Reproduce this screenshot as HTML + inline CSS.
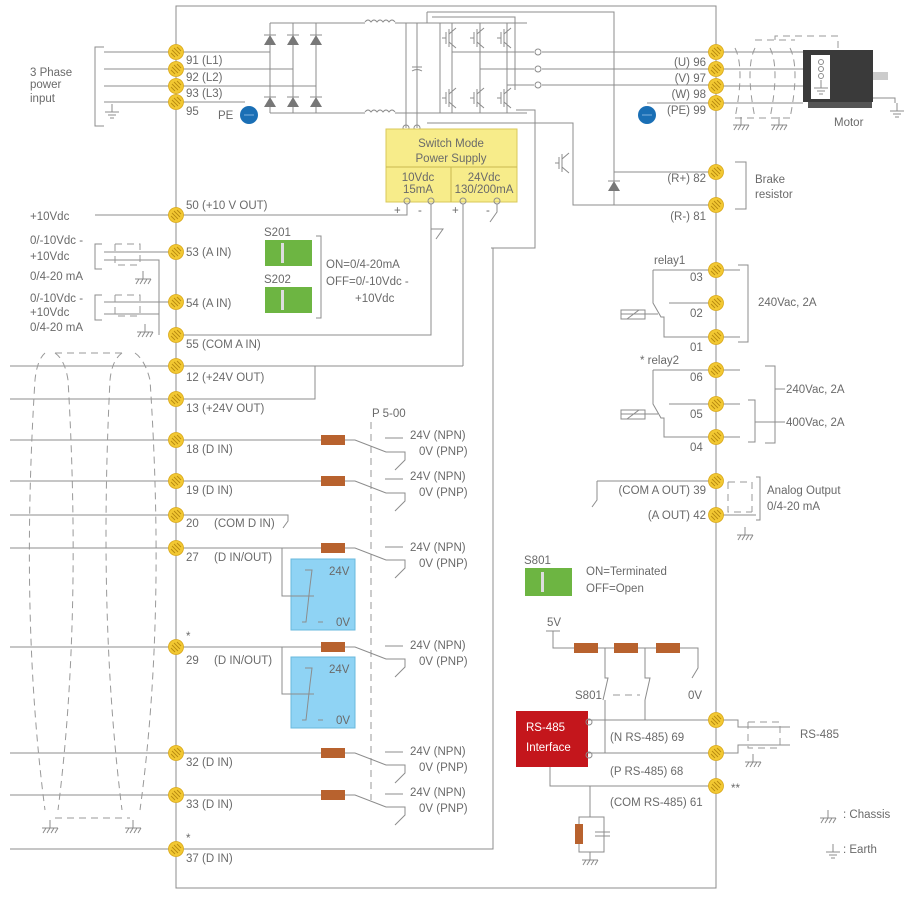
<!DOCTYPE html>
<html><head><meta charset="utf-8"><style>
html,body{margin:0;padding:0;background:#fff}
svg{display:block;font-family:"Liberation Sans",sans-serif;font-size:11.5px;fill:#6a6a6a}
.l{stroke:#8c8c8c;stroke-width:1;fill:none}
.d{stroke:#999;stroke-width:1;fill:none;stroke-dasharray:7 5}
.r{fill:#b8622e}
</style></head><body>
<svg width="918" height="902" viewBox="0 0 918 902">
<defs>
<g id="t"><circle r="7.5" fill="#f2c832" stroke="#d9a81a" stroke-width="0.8"/><path d="M-4 -2 L2 4 M-2 -4 L4 2 M-5 1 L-1 5 M1 -5 L5 -1" stroke="#b98b10" stroke-width="0.9"/></g>
<g id="res"><rect x="0" y="-5" width="24" height="10" class="r"/></g>
<g id="sw"><path class="l" d="M0 0 H10 L41 12 H60 V20 L50 30"/></g>
<g id="ch"><path class="l" d="M0 0 V-8 M-8 0 H8 M-7 5 L-4 0 M-3 5 L0 0 M1 5 L4 0 M5 5 L8 0"/></g>
<g id="gnd"><path class="l" d="M0 -8 V0 M-7 0 H7 M-4 3 H4 M-2 6 H2"/></g>
<g id="dio"><path d="M-6 5 L6 5 L0 -5 Z" fill="#777"/><path class="l" d="M-6 -5 H6"/></g>
<g id="igbt"><path class="l" d="M-10 0 H-6 M-6 -6 V6 M-3 -9 V9 M-3 -4 L4 -10 M-3 4 L4 10"/></g>
</defs>

<path class="l" d="M176 6 H716 V888 H176 Z"/>

<text x="30" y="76">3 Phase</text><text x="30" y="88">power</text><text x="30" y="102">input</text>
<path class="l" d="M104 47 H95 V126 H104"/>
<path class="l" d="M104 52 H270 M104 69 H293 M104 86 H316 M104 102 H245"/>
<use href="#gnd" x="112" y="112"/>
<path class="l" d="M270 23 V113 M293 23 V113 M316 23 V113 M270 23 H365 M270 113 H365"/>
<use href="#dio" x="270" y="40"/><use href="#dio" x="293" y="40"/><use href="#dio" x="316" y="40"/>
<use href="#dio" x="270" y="102"/><use href="#dio" x="293" y="102"/><use href="#dio" x="316" y="102"/>
<path class="l" d="M365 22 q3 -4 6 0 q3 -4 6 0 q3 -4 6 0 q3 -4 6 0 q3 -4 6 0 M365 112 q3 -4 6 0 q3 -4 6 0 q3 -4 6 0 q3 -4 6 0 q3 -4 6 0"/>
<path class="l" d="M395 23 H527 M395 113 H527 M406 23 V128 M417 23 V128 M427 12 V23 M427 12 H614 V205 M412 67 H422 M412 71 q5 -3 10 0 M417 23 V67 M417 71 V113"/>
<path class="l" d="M432 17 H515 V90 M440 23 V113 M452 23 V113 M480 23 V113 M507 23 V113"/>
<use href="#igbt" x="452" y="38"/><use href="#igbt" x="480" y="38"/><use href="#igbt" x="507" y="38"/>
<use href="#igbt" x="452" y="98"/><use href="#igbt" x="480" y="98"/><use href="#igbt" x="507" y="98"/>
<path class="l" d="M452 52 H534 M480 69 H534 M507 85 H534 M542 52 H716 M542 69 H716 M542 85 H716"/>
<circle cx="538" cy="52" r="3" class="l"/><circle cx="538" cy="69" r="3" class="l"/><circle cx="538" cy="85" r="3" class="l"/>
<path class="l" d="M516 110 H535 V248 H491 M427 123 H573 V205 H716 M614 172 H716"/>
<use href="#igbt" x="565" y="163"/>
<use href="#dio" x="614" y="186"/>
<circle cx="406" cy="128" r="3" fill="#fff" class="l"/><circle cx="417" cy="128" r="3" fill="#fff" class="l"/>
<circle cx="249" cy="115" r="9" fill="#1a6fb5"/><path d="M244 115 H254" stroke="#7fb0de"/>
<text x="218" y="119">PE</text>
<circle cx="647" cy="115" r="9" fill="#1a6fb5"/><path d="M642 115 H652" stroke="#7fb0de"/>
<path class="l" d="M647 103 H716"/>

<rect x="386" y="129" width="131" height="73" fill="#f7ec8a" stroke="#d9c85a"/>
<path d="M386 167 H517 M451 167 V202" stroke="#c8b850"/>
<text x="451" y="147" text-anchor="middle">Switch Mode</text><text x="451" y="162" text-anchor="middle">Power Supply</text>
<text x="418" y="181" text-anchor="middle">10Vdc</text><text x="418" y="193" text-anchor="middle">15mA</text>
<text x="484" y="181" text-anchor="middle">24Vdc</text><text x="484" y="193" text-anchor="middle">130/200mA</text>
<circle cx="407" cy="201" r="3" fill="#fff" class="l"/><circle cx="431" cy="201" r="3" fill="#fff" class="l"/><circle cx="463" cy="201" r="3" fill="#fff" class="l"/><circle cx="497" cy="201" r="3" fill="#fff" class="l"/>
<text x="394" y="214">+</text><text x="418" y="214">-</text><text x="452" y="214">+</text><text x="486" y="214">-</text>
<path class="l" d="M407 204 V215 H176 M431 204 V335 H176 M431 229 H443 L436 239 M463 204 V366 M497 204 V212 L490 222"/>

<text x="186" y="64">91 (L1)</text><text x="186" y="81">92 (L2)</text><text x="186" y="97">93 (L3)</text><text x="186" y="115">95</text>
<text x="30" y="220">+10Vdc</text><path class="l" d="M95 215 H176"/>
<text x="186" y="209">50 (+10 V OUT)</text>
<text x="30" y="244">0/-10Vdc -</text><text x="30" y="260">+10Vdc</text><text x="30" y="280">0/4-20 mA</text>
<path class="l" d="M102 244 H95 V269 H102 M104 252 H176 M104 260 H159 V335"/>
<path class="d" d="M115 244 H140 V265 M115 244 V265 H140"/><use href="#ch" x="143" y="279"/>
<text x="186" y="256">53 (A IN)</text>
<text x="30" y="302">0/-10Vdc -</text><text x="30" y="316">+10Vdc</text><text x="30" y="331">0/4-20 mA</text>
<path class="l" d="M102 295 H95 V320 H102 M104 302 H176 M104 314 H159"/>
<path class="d" d="M115 295 H140 V316 M115 295 V316 H140"/><use href="#ch" x="145" y="332"/>
<text x="186" y="307">54 (A IN)</text>
<text x="186" y="348">55 (COM A IN)</text>
<text x="264" y="236">S201</text><rect x="265" y="240" width="47" height="26" fill="#6db542"/><rect x="281" y="243" width="3" height="20" fill="#ddd"/>
<text x="264" y="283">S202</text><rect x="265" y="287" width="47" height="26" fill="#6db542"/><rect x="281" y="290" width="3" height="20" fill="#ddd"/>
<path class="l" d="M316 236 H321 V318 H316"/>
<text x="326" y="268">ON=0/4-20mA</text><text x="326" y="285">OFF=0/-10Vdc -</text><text x="355" y="302">+10Vdc</text>

<path class="l" d="M10 366 H463 M10 399 H315 V366 M10 440 H321 M10 481 H321 M10 515 H288 V521 L283 528 M10 548 H321 M10 647 H321 M10 753 H321 M10 795 H321 M10 849 H493 V248"/>
<path class="d" d="M45 353 Q37 360 35 380 Q20 620 45 810 M55 353 Q65 360 68 380 Q82 620 58 810 M122 353 Q112 360 110 380 Q98 620 122 810 M135 353 Q145 360 150 380 Q166 620 140 810 M55 353 H122 M55 818 H130"/>
<use href="#ch" x="50" y="828"/><use href="#ch" x="133" y="828"/>
<text x="186" y="381">12 (+24V OUT)</text><text x="186" y="412">13 (+24V OUT)</text>
<text x="186" y="453">18 (D IN)</text><text x="186" y="494">19 (D IN)</text>
<text x="186" y="527">20</text><text x="214" y="527">(COM D IN)</text>
<text x="186" y="561">27</text><text x="214" y="561">(D IN/OUT)</text>
<text x="186" y="640">*</text><text x="186" y="664">29</text><text x="214" y="664">(D IN/OUT)</text>
<text x="186" y="766">32 (D IN)</text><text x="186" y="808">33 (D IN)</text>
<text x="186" y="842">*</text><text x="186" y="862">37 (D IN)</text>
<text x="372" y="417">P 5-00</text>
<path class="d" d="M371 422 V800"/>
<g>
<use href="#res" x="321" y="440"/><use href="#sw" x="345" y="440"/><text x="410" y="439">24V (NPN)</text><text x="419" y="455">0V (PNP)</text><path class="l" d="M385 438 H403"/>
<use href="#res" x="321" y="481"/><use href="#sw" x="345" y="481"/><text x="410" y="480">24V (NPN)</text><text x="419" y="496">0V (PNP)</text><path class="l" d="M385 479 H403"/>
<use href="#res" x="321" y="548"/><use href="#sw" x="345" y="548"/><text x="410" y="551">24V (NPN)</text><text x="419" y="567">0V (PNP)</text><path class="l" d="M385 547 H403"/>
<use href="#res" x="321" y="647"/><use href="#sw" x="345" y="647"/><text x="410" y="649">24V (NPN)</text><text x="419" y="665">0V (PNP)</text><path class="l" d="M385 646 H403"/>
<use href="#res" x="321" y="753"/><use href="#sw" x="345" y="753"/><text x="410" y="755">24V (NPN)</text><text x="419" y="771">0V (PNP)</text><path class="l" d="M385 752 H403"/>
<use href="#res" x="321" y="795"/><use href="#sw" x="345" y="795"/><text x="410" y="796">24V (NPN)</text><text x="419" y="812">0V (PNP)</text><path class="l" d="M385 794 H403"/>
</g>
<rect x="291" y="559" width="64" height="71" fill="#8fd3f4" stroke="#6ab8dc"/>
<path class="l" d="M282 548 V596 H314 M305 570 H312 L310 586 L306 622 H302 M318 622 H323"/><text x="329" y="575">24V</text><text x="336" y="626">0V</text>
<rect x="291" y="657" width="64" height="71" fill="#8fd3f4" stroke="#6ab8dc"/>
<path class="l" d="M282 647 V694 H314 M305 668 H312 L310 684 L306 720 H302 M318 720 H323"/><text x="329" y="673">24V</text><text x="336" y="724">0V</text>

<text x="706" y="66" text-anchor="end">(U) 96</text><text x="706" y="82" text-anchor="end">(V) 97</text><text x="706" y="98" text-anchor="end">(W) 98</text><text x="706" y="114" text-anchor="end">(PE) 99</text>
<path class="l" d="M716 52 H818 M716 69 H818 M716 86 H818 M716 103 H803"/>
<path class="d" d="M735 48 q10 20 0 70 M770 48 q10 20 0 70 M790 48 q10 20 0 70 M755 48 q-10 20 0 70 M755 40 H795 M775 40 V36 H838 V50 M735 118 H795"/>
<use href="#ch" x="741" y="125"/><use href="#ch" x="779" y="125"/>
<rect x="803" y="50" width="70" height="52" fill="#3a3a3a"/><rect x="811" y="55" width="19" height="44" fill="#fff"/>
<rect x="873" y="72" width="15" height="8" fill="#ccc"/><rect x="808" y="102" width="64" height="6" fill="#555"/>
<circle cx="821" cy="62" r="2.5" class="l"/><circle cx="821" cy="69" r="2.5" class="l"/><circle cx="821" cy="76" r="2.5" class="l"/><use href="#gnd" x="821" y="88"/>
<path class="l" d="M873 98 H895 V103"/><use href="#gnd" x="897" y="111"/>
<text x="834" y="126">Motor</text>
<text x="706" y="182" text-anchor="end">(R+) 82</text><text x="706" y="220" text-anchor="end">(R-) 81</text>
<path class="l" d="M735 162 H746 V209 H735"/><text x="755" y="183">Brake</text><text x="755" y="198">resistor</text>

<text x="654" y="264">relay1</text>
<text x="690" y="281">03</text><text x="690" y="317">02</text><text x="690" y="351">01</text>
<path class="l" d="M653 270 H716 V337 M653 270 V303 L661 317 H664 V337 H716 M669 303 H716 M621 314 H658 M716 270 H740 M716 337 H740 M738 265 H748 V342 H738"/>
<rect x="621" y="310" width="24" height="9" class="l"/><path class="l" d="M627 319 L639 310"/>
<text x="758" y="306">240Vac, 2A</text>
<text x="640" y="364">* relay2</text>
<text x="690" y="381">06</text><text x="690" y="418">05</text><text x="690" y="451">04</text>
<path class="l" d="M653 370 H716 V437 M653 370 V404 L661 418 H664 V437 H716 M669 404 H716 M621 414 H658 M716 370 H740 M716 404 H740 M716 437 H740 M765 366 H775 V443 H765 M748 400 H755 V442 H748 M755 422 H775 M775 389 H785 M775 422 H785"/>
<rect x="621" y="410" width="24" height="9" class="l"/><path class="l" d="M627 419 L639 410"/>
<text x="786" y="393">240Vac, 2A</text><text x="786" y="426">400Vac, 2A</text>

<text x="706" y="494" text-anchor="end">(COM A OUT) 39</text><text x="706" y="519" text-anchor="end">(A OUT) 42</text>
<path class="l" d="M597 481 H716 M597 481 V500 L592 507 M716 515 H756 M756 477 H760 V520 H756"/>
<path class="d" d="M728 482 H752 V512 M728 482 V512 H752"/><use href="#ch" x="745" y="535"/>
<text x="767" y="494">Analog Output</text><text x="767" y="510">0/4-20 mA</text>

<text x="524" y="564">S801</text><rect x="525" y="568" width="47" height="28" fill="#6db542"/><rect x="541" y="572" width="3" height="20" fill="#ddd"/>
<text x="586" y="575">ON=Terminated</text><text x="586" y="592">OFF=Open</text>
<text x="547" y="626">5V</text>
<path class="l" d="M546 631 H560 M553 631 V648 H574 M598 648 H616 M638 648 H656 M680 648 H698 V668 L692 678 M605 648 V678 L608 678 L603 700 M605 700 V753 M645 648 V678 L650 678 L645 700 M645 700 V720 M588 720 H716 M588 753 H716 M550 767 V786 H716 M590 786 V817"/>
<use href="#res" x="574" y="648"/><use href="#res" x="614" y="648"/><use href="#res" x="656" y="648"/>
<path class="d" d="M613 695 H640"/>
<text x="575" y="699">S801</text><text x="688" y="699">0V</text>
<rect x="516" y="711" width="72" height="56" fill="#c4161c"/>
<text x="526" y="731" style="fill:#fff">RS-485</text><text x="526" y="751" style="fill:#fff">Interface</text>
<circle cx="589" cy="722" r="3" fill="#fff" class="l"/><circle cx="589" cy="755" r="3" fill="#fff" class="l"/>
<text x="610" y="741">(N RS-485) 69</text><text x="610" y="775">(P RS-485) 68</text><text x="610" y="806">(COM RS-485) 61</text>
<text x="731" y="792">**</text>
<path class="l" d="M579 817 H604 V852 H579 Z M595 832 H610 M595 836 H610"/><rect x="575" y="824" width="8" height="20" class="r"/><use href="#ch" x="590" y="860"/>
<path class="l" d="M716 720 H738 V727 H790 M716 753 H738 V745 H790"/>
<path class="d" d="M748 722 H780 V748 M748 722 V748 H780"/><use href="#ch" x="753" y="762"/>
<text x="800" y="738">RS-485</text>
<use href="#ch" x="828" y="818"/><text x="843" y="818">: Chassis</text>
<use href="#gnd" x="833" y="852"/><text x="843" y="853">: Earth</text>

<g>
<use href="#t" x="176" y="52"/><use href="#t" x="176" y="69"/><use href="#t" x="176" y="86"/><use href="#t" x="176" y="102"/>
<use href="#t" x="176" y="215"/><use href="#t" x="176" y="252"/><use href="#t" x="176" y="302"/><use href="#t" x="176" y="335"/>
<use href="#t" x="176" y="366"/><use href="#t" x="176" y="399"/><use href="#t" x="176" y="440"/><use href="#t" x="176" y="481"/>
<use href="#t" x="176" y="515"/><use href="#t" x="176" y="548"/><use href="#t" x="176" y="647"/><use href="#t" x="176" y="753"/>
<use href="#t" x="176" y="795"/><use href="#t" x="176" y="849"/>
<use href="#t" x="716" y="52"/><use href="#t" x="716" y="69"/><use href="#t" x="716" y="86"/><use href="#t" x="716" y="103"/>
<use href="#t" x="716" y="172"/><use href="#t" x="716" y="205"/><use href="#t" x="716" y="270"/><use href="#t" x="716" y="303"/>
<use href="#t" x="716" y="337"/><use href="#t" x="716" y="370"/><use href="#t" x="716" y="404"/><use href="#t" x="716" y="437"/>
<use href="#t" x="716" y="481"/><use href="#t" x="716" y="515"/><use href="#t" x="716" y="720"/><use href="#t" x="716" y="753"/><use href="#t" x="716" y="786"/>
</g>
</svg>
</body></html>
